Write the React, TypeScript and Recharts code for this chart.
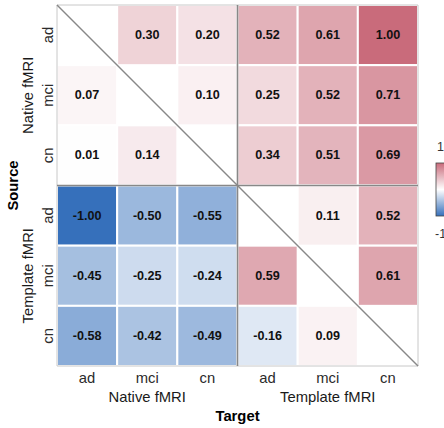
import React from 'react';
import { ScatterChart, Scatter, XAxis, YAxis, Label } from 'recharts';

const categories = ['ad', 'mci', 'cn'];
const groups = ['Native fMRI', 'Template fMRI'];

// Source rows (top to bottom), Target columns (left to right)
const nativeAd = [null, 0.3, 0.2, 0.52, 0.61, 1.0];
const nativeMci = [0.07, null, 0.1, 0.25, 0.52, 0.71];
const nativeCn = [0.01, 0.14, null, 0.34, 0.51, 0.69];
const templateAd = [-1.0, -0.5, -0.55, null, 0.11, 0.52];
const templateMci = [-0.45, -0.25, -0.24, 0.59, null, 0.61];
const templateCn = [-0.58, -0.42, -0.49, -0.16, 0.09, null];
const sources = [nativeAd, nativeMci, nativeCn, templateAd, templateMci, templateCn];

const colorbarTicks = ['1', '-1'];

const W = 444;
const H = 428;
const M = { top: 5, right: 26, left: 0, bottom: 0 };
const YW = 57;
const XH = 62;
const N = 6;
const PLOT_W = W - M.left - M.right - YW;
const PLOT_H = H - M.top - M.bottom - XH;
const CELL_W = PLOT_W / N;
const CELL_H = PLOT_H / N;

const POS = [201, 107, 123];
const NEG = [54, 112, 187];
function colorFor(v: number): string {
  const t = Math.min(1, Math.abs(v));
  const end = v >= 0 ? POS : NEG;
  const c = end.map((e) => Math.round(255 - t * (255 - e)));
  return `rgb(${c.join(',')})`;
}

type Pt = { x: number; y: number; v: number };
const points: Pt[] = [];
sources.forEach((row, r) =>
  row.forEach((v, c) => {
    if (v !== null) points.push({ x: c + 0.5, y: r + 0.5, v: v as number });
  })
);

// guide lines in data units
const half = N / 2;
const borderLine = [
  { x: 0, y: 0 },
  { x: N, y: 0 },
  { x: N, y: N },
  { x: 0, y: N },
  { x: 0, y: 0 },
];
const vSep = [
  { x: half, y: 0 },
  { x: half, y: N },
];
const hSep = [
  { x: 0, y: half },
  { x: N, y: half },
];
const diag = [
  { x: 0, y: 0 },
  { x: N, y: N },
];

const tickVals = [0.5, 1.5, 2.5, 3.5, 4.5, 5.5];
const FONT = '"Liberation Sans", Arial, sans-serif';
const TICK_FS = 14.8;

const Tile = (props: any) => {
  const { cx, cy, payload } = props;
  if (cx == null || cy == null) return null;
  return (
    <g>
      <rect
        x={cx - CELL_W / 2}
        y={cy - CELL_H / 2}
        width={CELL_W}
        height={CELL_H}
        fill={colorFor(payload.v)}
        stroke="#ffffff"
        strokeWidth={2}
      />
      <text
        x={cx}
        y={cy}
        textAnchor="middle"
        dominantBaseline="central"
        fontFamily={FONT}
        fontWeight="bold"
        fontSize={12.6}
        fill="#111"
      >
        {payload.v.toFixed(2)}
      </text>
    </g>
  );
};

const NoDot = () => null;

const XTick = (props: any) => {
  const { x, y, payload } = props;
  const idx = Math.floor(payload.value);
  return (
    <g>
      <text x={x} y={y + 12} textAnchor="middle" dominantBaseline="central" fontFamily={FONT} fontSize={TICK_FS} fill="#2b2b2b">
        {categories[idx % 3]}
      </text>
      {idx % 3 === 1 && (
        <text x={x} y={y + 31} textAnchor="middle" dominantBaseline="central" fontFamily={FONT} fontSize={TICK_FS} fill="#1a1a1a">
          {groups[Math.floor(idx / 3)]}
        </text>
      )}
    </g>
  );
};

const YTick = (props: any) => {
  const { x, y, payload } = props;
  const idx = Math.floor(payload.value);
  const tx = x - 9;
  const gx = x - 29;
  return (
    <g>
      <text
        x={tx}
        y={y}
        transform={`rotate(-90 ${tx} ${y})`}
        textAnchor="middle"
        dominantBaseline="central"
        fontFamily={FONT}
        fontSize={TICK_FS}
        fill="#2b2b2b"
      >
        {categories[idx % 3]}
      </text>
      {idx % 3 === 1 && (
        <text
          x={gx}
          y={y}
          transform={`rotate(-90 ${gx} ${y})`}
          textAnchor="middle"
          dominantBaseline="central"
          fontFamily={FONT}
          fontSize={TICK_FS}
          fill="#1a1a1a"
        >
          {groups[Math.floor(idx / 3)]}
        </text>
      )}
    </g>
  );
};

const XTitle = (props: any) => {
  const vb = props.viewBox;
  return (
    <text x={vb.x + vb.width / 2} y={vb.y + 50} textAnchor="middle" dominantBaseline="central" fontFamily={FONT} fontWeight="bold" fontSize={TICK_FS} fill="#000">
      Target
    </text>
  );
};

const YTitle = (props: any) => {
  const vb = props.viewBox;
  const x = vb.x + 13;
  const y = vb.y + vb.height / 2;
  return (
    <text x={x} y={y} transform={`rotate(-90 ${x} ${y})`} textAnchor="middle" dominantBaseline="central" fontFamily={FONT} fontWeight="bold" fontSize={TICK_FS} fill="#000">
      Source
    </text>
  );
};

const CB = { x: 436, y: 163, w: 18, h: 53 };

export default function App() {
  return (
    <div style={{ position: 'absolute', left: 0, top: 0, width: W, height: H, background: '#fff' }}>
      <ScatterChart width={W} height={H} margin={M}>
        <XAxis
          type="number"
          dataKey="x"
          domain={[0, N]}
          ticks={tickVals}
          tick={<XTick />}
          tickSize={0}
          tickMargin={0}
          tickLine={false}
          axisLine={false}
          height={XH}
          interval={0}
        >
          <Label content={<XTitle />} />
        </XAxis>
        <YAxis
          type="number"
          dataKey="y"
          domain={[0, N]}
          reversed
          ticks={tickVals}
          tick={<YTick />}
          tickSize={0}
          tickMargin={0}
          tickLine={false}
          axisLine={false}
          width={YW}
          interval={0}
        >
          <Label content={<YTitle />} />
        </YAxis>
        <Scatter data={points} shape={<Tile />} isAnimationActive={false} />
        <Scatter data={borderLine} line={{ stroke: '#c8c8c8', strokeWidth: 1 }} shape={<NoDot />} isAnimationActive={false} />
        <Scatter data={vSep} line={{ stroke: '#888888', strokeWidth: 1.6 }} shape={<NoDot />} isAnimationActive={false} />
        <Scatter data={hSep} line={{ stroke: '#888888', strokeWidth: 1.6 }} shape={<NoDot />} isAnimationActive={false} />
        <Scatter data={diag} line={{ stroke: '#888888', strokeWidth: 1.4 }} shape={<NoDot />} isAnimationActive={false} />
      </ScatterChart>
      <svg width={W} height={H} style={{ position: 'absolute', left: 0, top: 0, pointerEvents: 'none' }}>
        <defs>
          <linearGradient id="cbgrad" x1="0" y1="0" x2="0" y2="1">
            <stop offset="0" stopColor={colorFor(1)} />
            <stop offset="0.5" stopColor="#ffffff" />
            <stop offset="1" stopColor={colorFor(-1)} />
          </linearGradient>
        </defs>
        <rect x={CB.x} y={CB.y} width={CB.w} height={CB.h} fill="url(#cbgrad)" stroke="#444" strokeWidth={0.8} />
        <text x={CB.x + 1} y={CB.y - 16} dominantBaseline="central" fontFamily={FONT} fontSize={12.5} fill="#333">
          {colorbarTicks[0]}
        </text>
        <text x={CB.x - 1} y={CB.y + CB.h + 18} dominantBaseline="central" fontFamily={FONT} fontSize={12.5} fill="#333">
          {colorbarTicks[1]}
        </text>
      </svg>
    </div>
  );
}
